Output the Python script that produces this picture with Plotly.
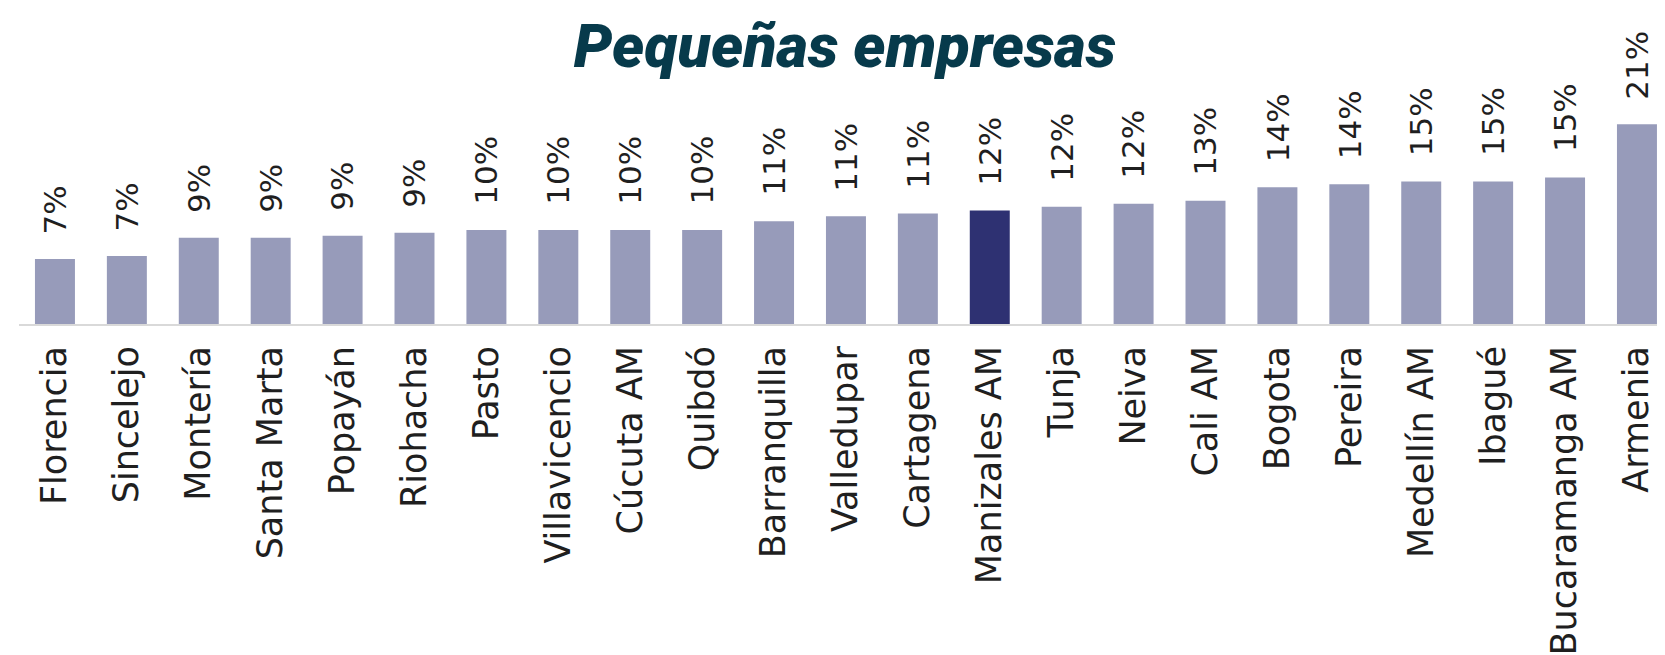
import plotly.graph_objects as go

ciudades = ["Florencia", "Sincelejo", "Montería", "Santa Marta", "Popayán", "Riohacha",
            "Pasto", "Villavicencio", "Cúcuta AM", "Quibdó", "Barranquilla", "Valledupar",
            "Cartagena", "Manizales AM", "Tunja", "Neiva", "Cali AM", "Bogota", "Pereira",
            "Medellín AM", "Ibagué", "Bucaramanga AM", "Armenia"]
valores = [0.067, 0.070, 0.089, 0.089, 0.091, 0.094, 0.097, 0.097, 0.097, 0.097, 0.106,
           0.111, 0.114, 0.117, 0.121, 0.124, 0.127, 0.141, 0.144, 0.147, 0.147, 0.151, 0.206]
destacada = "Manizales AM"
titulo = "Pequeñas empresas"

color_base = "#979BBA"
color_dest = "#2E3172"
colores = [color_dest if c == destacada else color_base for c in ciudades]

# page body has an 8px default margin; size the figure to fit the window
OFF = 8
W, H = 1665 - OFF, 655 - OFF
top, bottom_px = 30 - OFF, 324 - OFF
px_per_unit = 970.0
y_max = (bottom_px - top) / px_per_unit

fig = go.Figure()
fig.add_trace(go.Bar(x=ciudades, y=valores, marker=dict(color=colores, line=dict(width=0)),
                     hoverinfo="skip"))

for c, v in zip(ciudades, valores):
    fig.add_annotation(x=c, y=v, xref="x", yref="y", text=f"{round(v*100):.0f}%",
                       textangle=-90, showarrow=False, yanchor="bottom", xanchor="center",
                       yshift=24, borderpad=0,
                       font=dict(family="DejaVu Sans", size=31, color="#1f1f1f"))

fig.update_layout(
    width=W, height=H,
    margin=dict(l=19 - OFF, r=0, t=top, b=H - bottom_px, autoexpand=False),
    paper_bgcolor="white", plot_bgcolor="white",
    bargap=0.444,
    showlegend=False,
    title=dict(text=f"<i>{titulo}</i>", x=(845 - OFF) / W, xanchor="center", xref="container",
               y=1 - (46 - OFF) / H, yanchor="middle", yref="container", automargin=False,
               font=dict(family="Roboto", size=61, color="#073A4B", weight=900)),
    xaxis=dict(range=[-0.5, 22.39], showgrid=False, zeroline=False, showline=True,
               automargin=False,
               linecolor="#D9D9D9", linewidth=2, tickangle=-90, ticks="",
               ticklabelstandoff=6,
               tickfont=dict(family="DejaVu Sans", size=35, color="#1f1f1f")),
    yaxis=dict(range=[0, y_max], visible=False, showgrid=False, zeroline=False,
               automargin=False),
)

fig.write_html("out.html")
